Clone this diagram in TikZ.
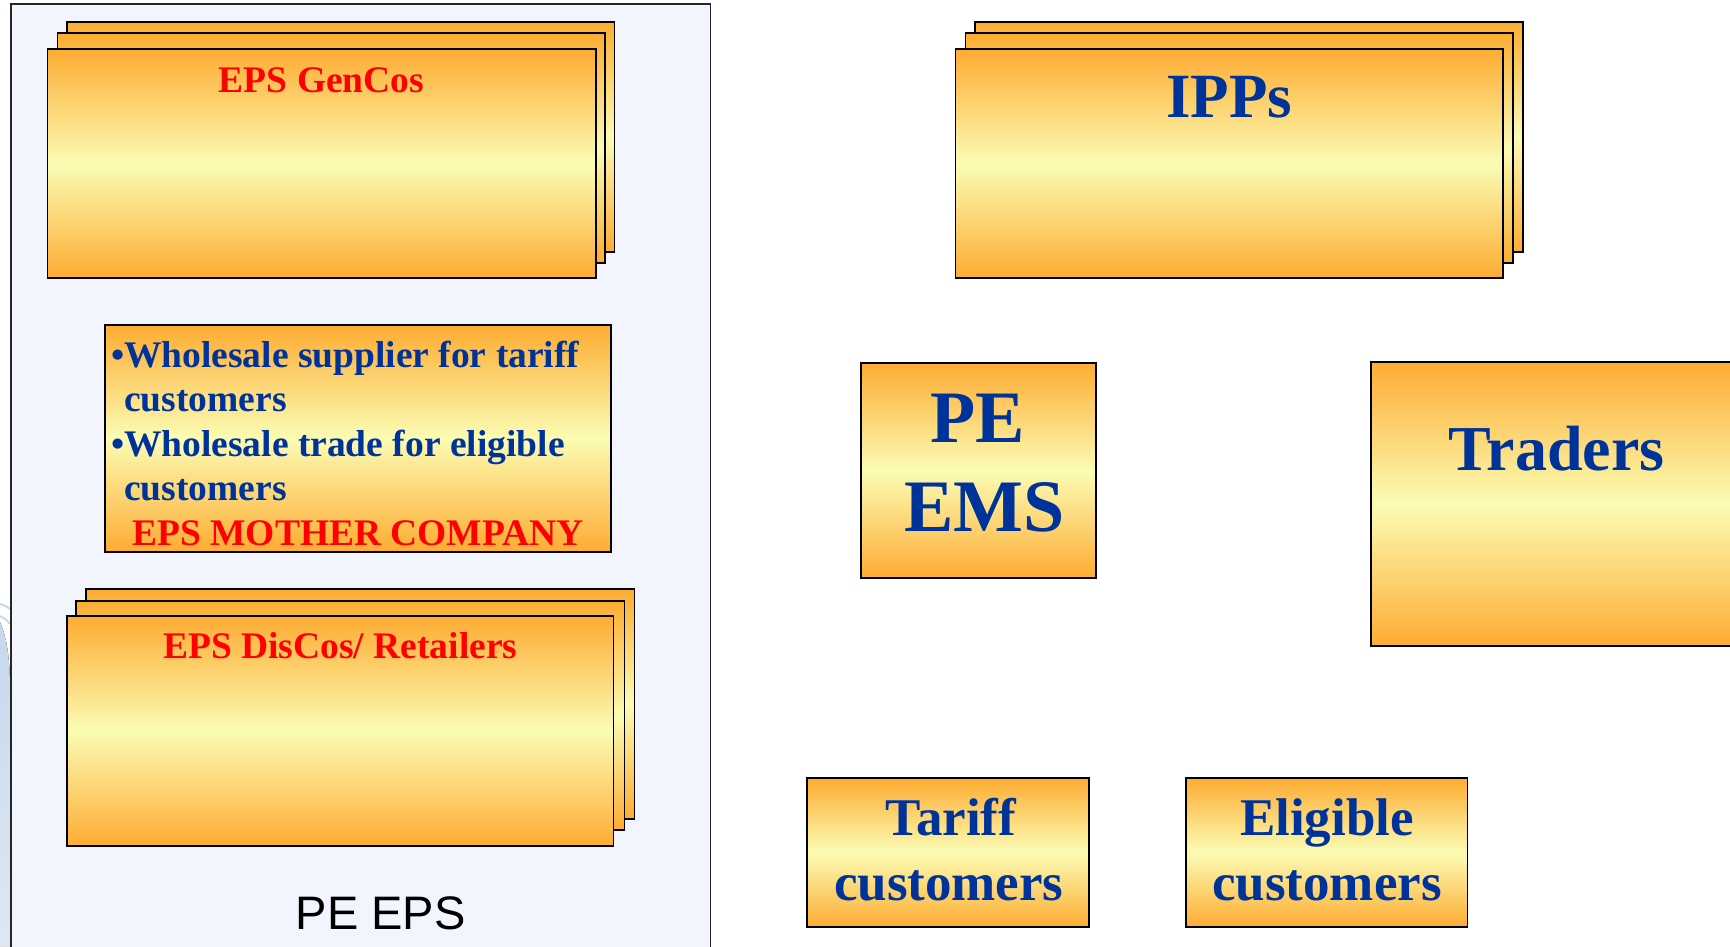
\documentclass[tikz,border=0pt]{standalone}
\usepackage{fontspec}
\setmainfont{Liberation Serif}
\newfontfamily\arialf{Liberation Sans}
\definecolor{orangeT}{RGB}{253,172,50}
\definecolor{yellowM}{RGB}{251,252,180}
\definecolor{txtblue}{RGB}{0,51,153}
\definecolor{txtred}{RGB}{255,0,0}
\definecolor{panelfill}{RGB}{242,245,254}
\definecolor{edgeblue}{RGB}{198,216,236}
\definecolor{edgeblue2}{RGB}{222,231,243}
\tikzset{
  obox/.style={draw=black, line width=1.8pt, top color=orangeT, bottom color=orangeT, middle color=yellowM,
    rectangle, inner sep=0pt, outer sep=0pt, anchor=north west},
  txt/.style={inner sep=0pt, outer sep=0pt, anchor=base},
  txtl/.style={inner sep=0pt, outer sep=0pt, anchor=base west},
  redtitle/.style={txt, text=txtred, font=\bfseries\fontsize{37.5}{44}\selectfont},
  bluebody/.style={txtl, text=txtblue, font=\bfseries\fontsize{37.5}{44}\selectfont},
  bigblue/.style={txt, text=txtblue, font=\bfseries\fontsize{#1}{#1}\selectfont},
}
\begin{document}
\begin{tikzpicture}[x=1pt,y=-1pt]
\useasboundingbox (0,0) rectangle (1730,946);
\fill[white] (0,0) rectangle (1730,946);
% faint background decoration at the left edge
\fill[top color=edgeblue, bottom color=edgeblue2] (0,622) .. controls (6,636) and (10,655) .. (10,690) -- (10,946) -- (0,946) -- cycle;
\draw[edgeblue, line width=2pt] (0,604) .. controls (4,605) and (8,607) .. (10,609);
\draw[edgeblue, line width=2pt] (0,616) .. controls (4,618) and (8,621) .. (10,624);
% PE EPS panel
\node[draw=black!85, line width=1.6pt, fill=panelfill, rectangle, inner sep=0pt, anchor=north west,
  minimum width=699.5pt, minimum height=960pt] (panel) at (10,3) {};
% EPS GenCos stack
\node[obox, minimum width=547.2pt, minimum height=230pt] (gen3) at (67.3,22) {};
\node[obox, minimum width=547.2pt, minimum height=230pt] (gen2) at (57.4,33) {};
\node[obox, minimum width=548.4pt, minimum height=229pt] (gen1) at (47.4,49) {};
\node[redtitle] (gentxt) at (321.6,92) {EPS GenCos};
% EPS mother company
\node[obox, minimum width=506.4pt, minimum height=226.7pt] (mother) at (104.8,325) {};
\node[bluebody] (m1) at (111,367.5) {•Wholesale supplier for tariff};
\node[bluebody] (m2) at (124.2,411.5) {customers};
\node[bluebody] (m3) at (111,456) {•Wholesale trade for eligible};
\node[bluebody] (m4) at (124.2,500) {customers};
\node[redtitle] (m5) at (358,545) {EPS MOTHER COMPANY};
% EPS DisCos stack
\node[obox, minimum width=548.4pt, minimum height=230pt] (dis3) at (86,589) {};
\node[obox, minimum width=548.5pt, minimum height=229pt] (dis2) at (76,601) {};
\node[obox, minimum width=546.1pt, minimum height=230pt] (dis1) at (67.3,616) {};
\node[redtitle] (distxt) at (340.4,658) {EPS DisCos/ Retailers};
\node[txt, font=\arialf\fontsize{47}{47}\selectfont] (peeps) at (380.6,929) {PE EPS};
% IPPs stack
\node[obox, minimum width=547.6pt, minimum height=230pt] (ipp3) at (975,22) {};
\node[obox, minimum width=547.3pt, minimum height=230pt] (ipp2) at (965.4,33) {};
\node[obox, minimum width=547.2pt, minimum height=229pt] (ipp1) at (955.5,49) {};
\node[bigblue=63] (ipptxt) at (1229,117) {IPPs};
% PE EMS
\node[obox, minimum width=235pt, minimum height=215pt] (ems) at (861,363) {};
\node[bigblue=74] (ems1) at (977.5,442) {PE};
\node[bigblue=74] (ems2) at (984.7,531) {EMS};
% Traders
\node[obox, minimum width=380pt, minimum height=284pt] (traders) at (1371,362) {};
\node[bigblue=64] (tradtxt) at (1556.7,470) {Traders};
% Tariff customers
\node[obox, minimum width=282pt, minimum height=149pt] (tariff) at (807,778) {};
\node[bigblue=53] (tar1) at (950.8,835) {Tariff};
\node[bigblue=53] (tar2) at (948.8,900) {customers};
% Eligible customers
\node[obox, minimum width=281.5pt, minimum height=149pt] (elig) at (1186,778) {};
\node[bigblue=53] (eli1) at (1327,835) {Eligible};
\node[bigblue=53] (eli2) at (1327,900) {customers};
\end{tikzpicture}
\end{document}
